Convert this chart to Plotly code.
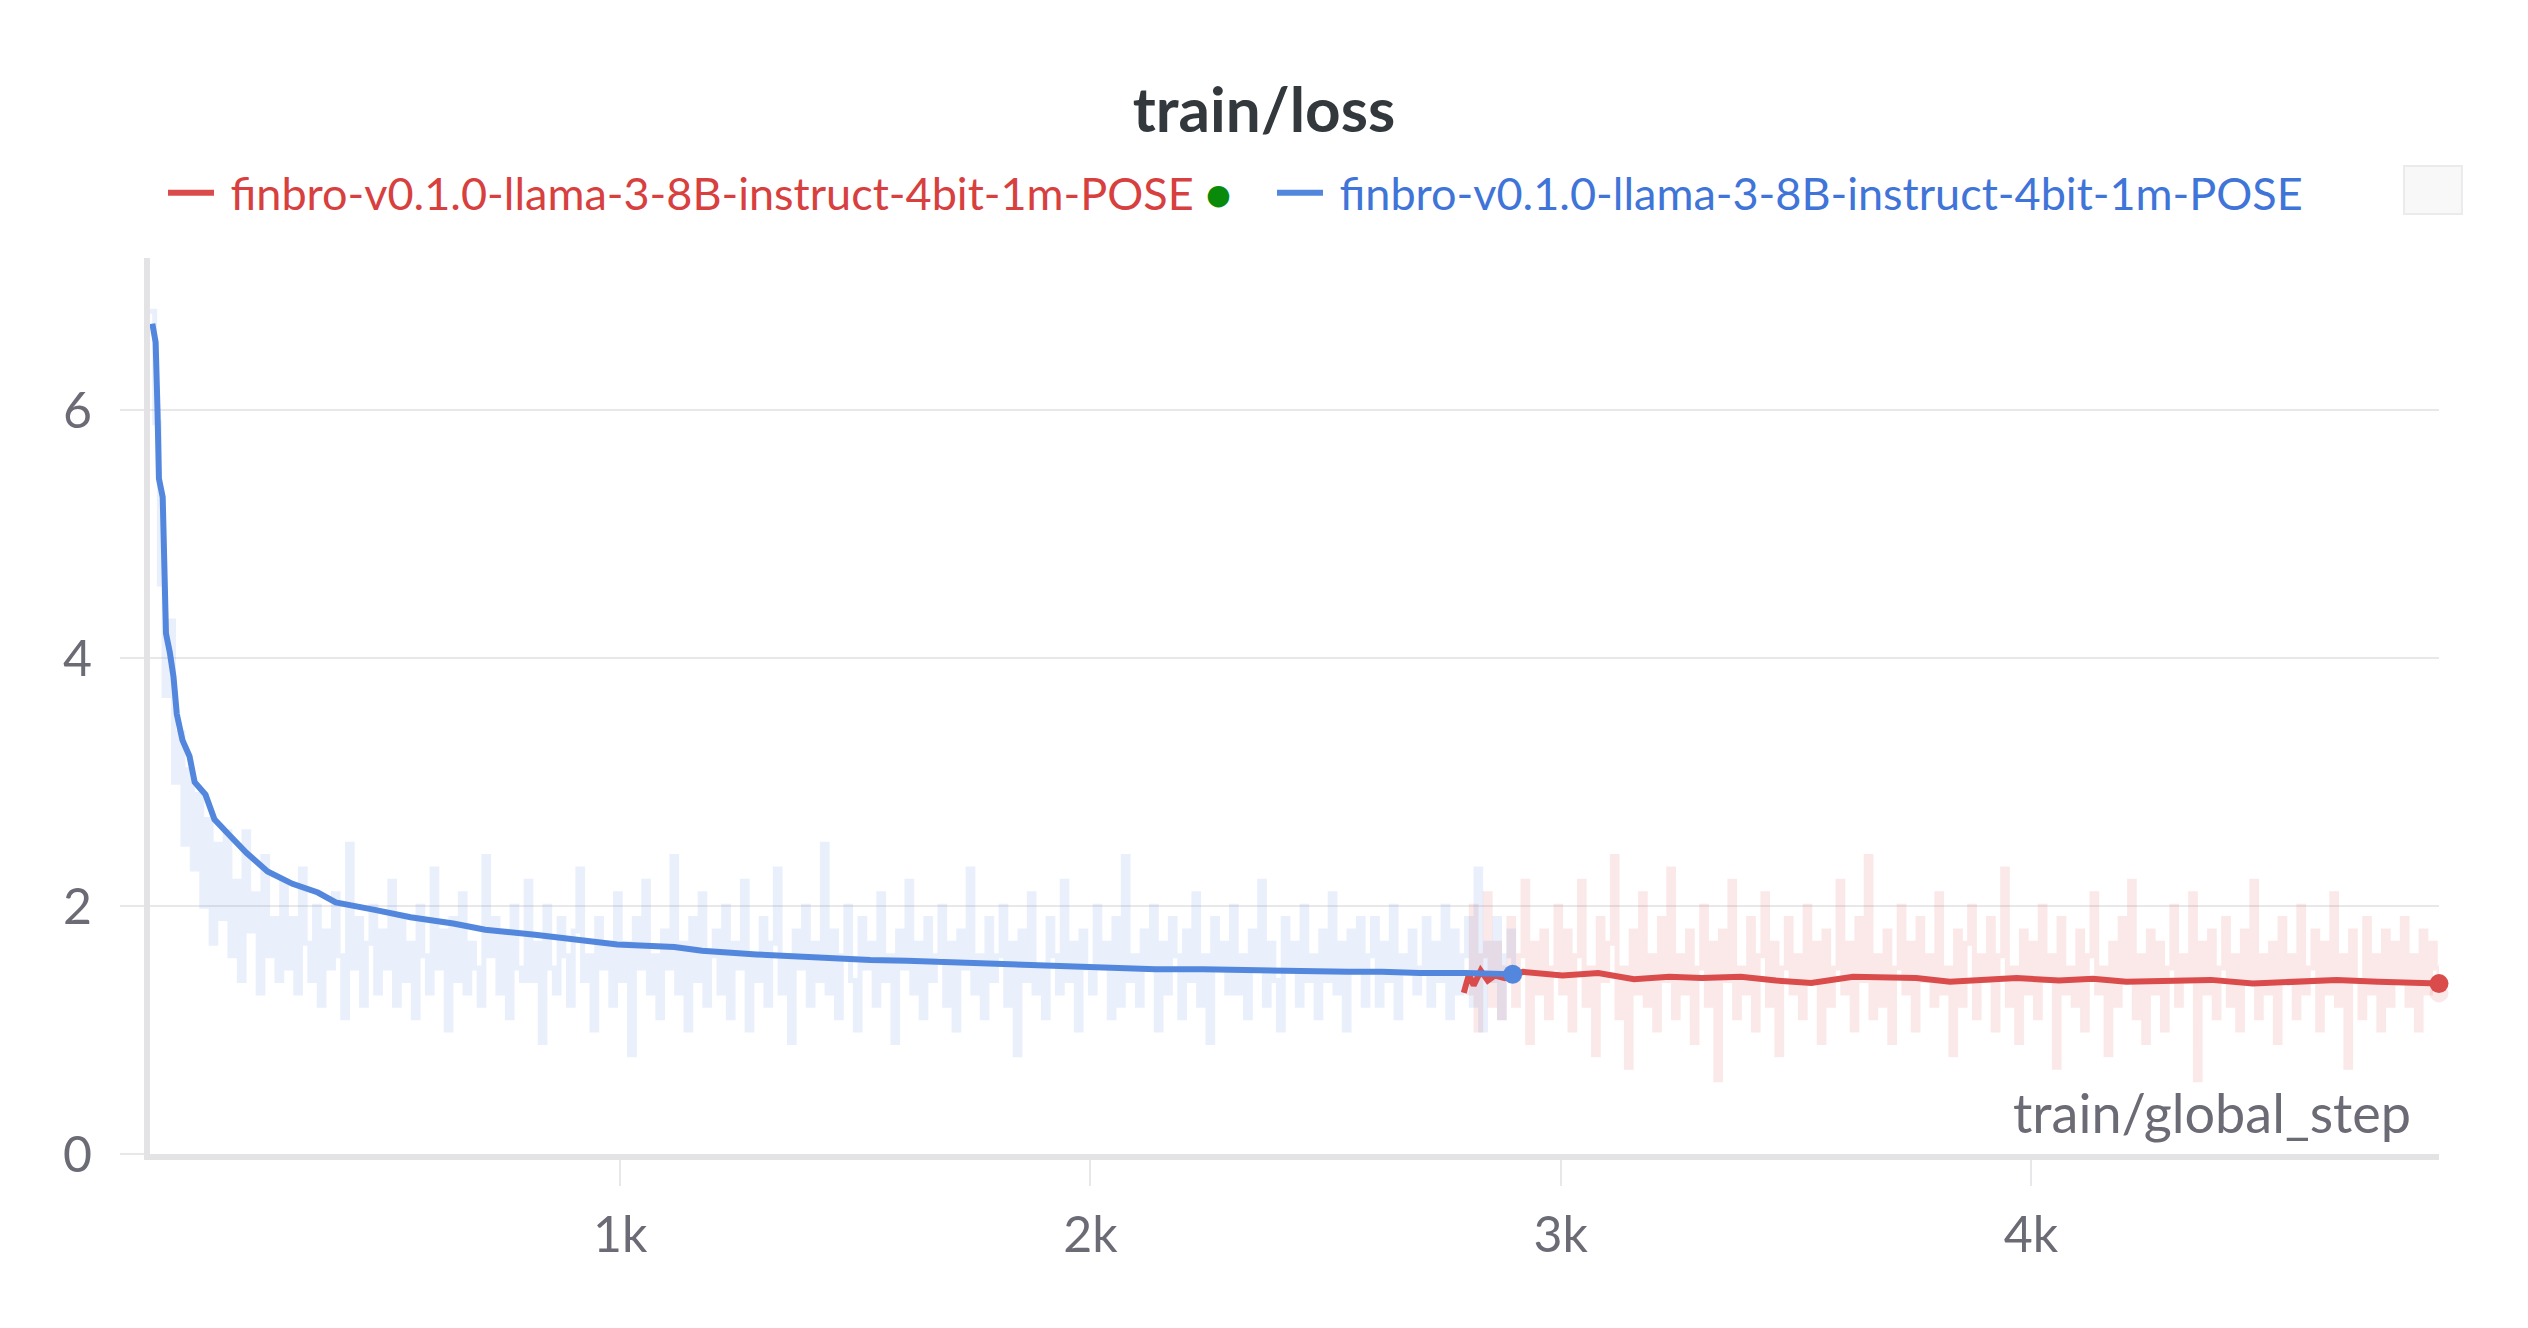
import plotly.graph_objects as go

# ---------------- data ----------------
TITLE = "train/loss"
RUN_NAME = "finbro-v0.1.0-llama-3-8B-instruct-4bit-1m-POSE"
X_TITLE = "train/global_step"

x_tick_vals = [1000, 2000, 3000, 4000]
x_tick_text = ["1k", "2k", "3k", "4k"]
y_tick_vals = [0, 2, 4, 6]
y_tick_text = ["0", "2", "4", "6"]

# raw (unsmoothed) loss of the blue run, logged every 10 steps from step 0
blue_raw_start = 0
blue_raw_interval = 10
blue_raw = [
    6.8, 5.9, 4.6, 3.7, 4.3, 3.0, 3.4, 2.5, 3.1, 2.3,
    2.9, 2.0, 2.7, 1.7, 2.5, 1.9, 2.6, 1.6, 2.2, 1.4,
    2.6, 1.8, 2.1, 1.3, 2.4, 1.6, 1.9, 1.4, 2.2, 1.5,
    1.9, 1.3, 2.3, 1.7, 1.4, 2.0, 1.2, 1.8, 1.5, 2.1,
    1.6, 1.1, 2.5, 1.5, 1.9, 1.2, 1.7, 2.0, 1.3, 1.8,
    1.5, 2.2, 1.2, 1.9, 1.4, 1.7, 1.1, 2.0, 1.6, 1.3,
    2.3, 1.5, 1.8, 1.0, 1.9, 1.4, 2.1, 1.3, 1.7, 1.5,
    1.2, 2.4, 1.6, 1.9, 1.3, 1.8, 1.1, 2.0, 1.5, 1.4,
    2.2, 1.4, 1.7, 0.9, 2.0, 1.5, 1.3, 1.9, 1.6, 1.2,
    1.8, 2.3, 1.4, 1.6, 1.0, 1.9, 1.5, 1.7, 1.2, 2.1,
    1.4, 1.7, 0.8, 1.9, 1.5, 2.2, 1.3, 1.6, 1.1, 1.8,
    1.5, 2.4, 1.3, 1.7, 1.0, 1.9, 1.4, 2.1, 1.2, 1.6,
    1.8, 1.3, 2.0, 1.1, 1.7, 1.5, 2.2, 1.0, 1.6, 1.4,
    1.9, 1.2, 1.7, 2.3, 1.3, 1.6, 0.9, 1.8, 1.5, 2.0,
    1.2, 1.7, 1.4, 2.5, 1.3, 1.8, 1.1, 1.6, 2.0, 1.4,
    1.0, 1.9, 1.5, 1.7, 1.2, 2.1, 1.4, 1.6, 0.9, 1.8,
    1.5, 2.2, 1.3, 1.7, 1.1, 1.9, 1.4, 1.6, 2.0, 1.2,
    1.7, 1.0, 1.8, 1.5, 2.3, 1.3, 1.6, 1.1, 1.9, 1.4,
    1.6, 2.0, 1.2, 1.7, 0.8, 1.8, 1.4, 2.1, 1.3, 1.5,
    1.1, 1.9, 1.6, 1.3, 2.2, 1.4, 1.7, 1.0, 1.8, 1.5,
    1.3, 2.0, 1.5, 1.7, 1.1, 1.9, 1.2, 2.4, 1.4, 1.6,
    1.2, 1.8, 1.5, 2.0, 1.0, 1.7, 1.3, 1.9, 1.6, 1.1,
    1.8, 1.4, 2.1, 1.2, 1.6, 0.9, 1.9, 1.5, 1.7, 1.3,
    2.0, 1.3, 1.6, 1.1, 1.8, 1.5, 2.2, 1.2, 1.7, 1.4,
    1.0, 1.9, 1.5, 1.7, 1.2, 2.0, 1.4, 1.6, 1.1, 1.8,
    1.4, 2.1, 1.3, 1.7, 1.0, 1.8, 1.5, 1.9, 1.2, 1.6,
    1.9, 1.2, 1.7, 1.4, 2.0, 1.1, 1.6, 1.5, 1.8, 1.3,
    1.5, 1.9, 1.2, 1.7, 1.4, 2.0, 1.1, 1.8, 1.3, 1.6,
    1.9, 1.2, 2.3, 1.0, 1.7, 1.4, 1.9, 1.1, 1.6, 1.8, 1.45,
]

# raw loss of the red run, logged every 10 steps from step 2800, last point at 4868
red_raw_start = 2800
red_raw_interval = 10
red_raw_last_step = 4868
red_raw = [
    1.3, 2.0, 1.0, 1.6, 2.1, 1.2, 1.7, 1.1, 1.5, 1.9,
    1.2, 1.6, 2.2, 0.9, 1.7, 1.3, 1.8, 1.1, 1.5, 2.0,
    1.3, 1.8, 1.0, 1.6, 2.2, 1.2, 1.5, 0.8, 1.9, 1.4,
    1.7, 2.4, 1.1, 1.5, 0.7, 1.8, 1.3, 2.1, 1.2, 1.6,
    1.0, 1.9, 1.4, 2.3, 1.1, 1.6, 1.3, 1.8, 0.9, 1.5,
    2.0, 1.2, 1.7, 0.6, 1.8, 1.4, 2.2, 1.1, 1.5, 1.3,
    1.9, 1.0, 1.6, 2.1, 1.2, 1.7, 0.8, 1.5, 1.9, 1.3,
    1.6, 1.1, 2.0, 1.4, 1.7, 0.9, 1.8, 1.2, 1.5, 2.2,
    1.3, 1.7, 1.0, 1.9, 1.4, 2.4, 1.1, 1.6, 1.2, 1.8,
    0.9, 1.5, 2.0, 1.3, 1.7, 1.0, 1.9, 1.4, 1.6, 1.2,
    2.1, 1.3, 1.5, 0.8, 1.8, 1.2, 1.7, 2.0, 1.1, 1.6,
    1.4, 1.9, 1.0, 1.6, 2.3, 1.2, 1.5, 0.9, 1.8, 1.3,
    1.7, 1.1, 2.0, 1.4, 1.6, 0.7, 1.9, 1.3, 1.5, 1.2,
    1.8, 1.0, 1.6, 2.1, 1.3, 1.5, 0.8, 1.7, 1.2, 1.9,
    1.4, 2.2, 1.1, 1.6, 0.9, 1.8, 1.3, 1.7, 1.0, 1.5,
    2.0, 1.2, 1.6, 1.4, 2.1, 0.6, 1.7, 1.3, 1.8, 1.1,
    1.5, 1.9, 1.2, 1.6, 1.0, 1.8, 1.4, 2.2, 1.1, 1.6,
    1.3, 1.7, 0.9, 1.9, 1.4, 1.6, 1.1, 2.0, 1.3, 1.5,
    1.8, 1.0, 1.7, 1.3, 2.1, 1.2, 1.6, 0.7, 1.8, 1.4,
    1.1, 1.9, 1.3, 1.6, 1.0, 1.8, 1.2, 1.7, 1.4, 1.9,
    1.2, 1.6, 1.0, 1.8, 1.3, 1.7, 1.5,
    1.3,
]

# smoothed curves
blue_smooth_steps = [5, 12, 16, 19, 27, 31, 34, 42, 50, 57, 69, 84, 95, 118, 137, 167,
                     205, 250, 303, 357, 395, 478, 554, 645, 713, 819, 896, 994,
                     1115, 1174, 1290, 1380, 1460, 1532, 1610, 1684, 1760, 1835,
                     1910, 1987, 2060, 2138, 2240, 2342, 2450, 2548, 2620, 2700,
                     2800, 2898]
blue_smooth = [6.7, 6.55, 6.0, 5.45, 5.3, 4.85, 4.2, 4.05, 3.85, 3.55, 3.34, 3.21, 3.0,
               2.9, 2.7, 2.58, 2.43, 2.28, 2.18, 2.11, 2.03, 1.97, 1.91, 1.86, 1.81,
               1.77, 1.73, 1.69, 1.67, 1.64, 1.61, 1.59, 1.58, 1.565, 1.56, 1.55,
               1.54, 1.53, 1.525, 1.515, 1.50, 1.49, 1.49, 1.48, 1.475, 1.47, 1.47,
               1.46, 1.46, 1.45]

red_smooth_steps = [2794, 2805, 2815, 2830, 2845, 2860, 2881, 2920, 3004, 3080, 3156,
                    3231, 3300, 3383, 3458, 3533, 3622, 3756, 3828, 3970, 4060, 4132,
                    4203, 4293, 4383, 4472, 4561, 4650, 4739, 4868]
red_smooth = [1.30, 1.45, 1.36, 1.48, 1.40, 1.44, 1.42, 1.47, 1.44, 1.46, 1.41,
              1.43, 1.42, 1.43, 1.40, 1.38, 1.43, 1.42, 1.39, 1.42, 1.40, 1.415,
              1.39, 1.40, 1.405, 1.375, 1.39, 1.405, 1.39, 1.375]

# ---------------- styles ----------------
BLUE = "#5387dd"
RED = "#da4c4c"
BLUE_RAW = "rgba(83,135,221,0.13)"
RED_RAW = "rgba(218,76,76,0.12)"
BLUE_TEXT = "#3f74d8"
RED_TEXT = "#d83f3f"
AXIS_GRAY = "#e3e3e6"
GRID_GRAY = "#e8e8ea"
TICK_TEXT = "#6b6b76"
FONT = "Lato"
NBSP = "\u00a0"

W, H = 2528, 1328
ML, MR, MT, MB = 150, 89, 258, 174
Y_MAX = 7.23

blue_raw_steps = [blue_raw_start + blue_raw_interval * i for i in range(len(blue_raw))]
red_raw_steps = [red_raw_start + red_raw_interval * i for i in range(len(red_raw) - 1)] + [red_raw_last_step]

fig = go.Figure()

fig.add_trace(go.Scatter(x=red_raw_steps, y=red_raw, mode="lines",
                         line=dict(color=RED_RAW, width=5, shape="hv"), showlegend=False,
                         hoverinfo="skip"))
fig.add_trace(go.Scatter(x=blue_raw_steps, y=blue_raw, mode="lines",
                         line=dict(color=BLUE_RAW, width=5, shape="hv"), showlegend=False,
                         hoverinfo="skip"))
fig.add_trace(go.Scatter(x=red_raw_steps[-1:], y=red_raw[-1:], mode="markers",
                         marker=dict(color="rgba(218,76,76,0.12)", size=19), showlegend=False,
                         hoverinfo="skip", cliponaxis=False))

legend_red = (f'{NBSP}<span style="color:{RED_TEXT}">{RUN_NAME}</span> '
              f'<span style="color:#0a8a0a;font-size:44px">●</span>')
legend_blue = f'{NBSP}<span style="color:{BLUE_TEXT}">{RUN_NAME}</span>'

fig.add_trace(go.Scatter(x=red_smooth_steps, y=red_smooth, mode="lines", name=legend_red,
                         line=dict(color=RED, width=6), legendrank=1))
fig.add_trace(go.Scatter(x=blue_smooth_steps, y=blue_smooth, mode="lines", name=legend_blue,
                         line=dict(color=BLUE, width=6), legendrank=2))
fig.add_trace(go.Scatter(x=red_smooth_steps[-1:], y=red_smooth[-1:], mode="markers",
                         marker=dict(color=RED, size=19), showlegend=False, cliponaxis=False))
fig.add_trace(go.Scatter(x=blue_smooth_steps[-1:], y=blue_smooth[-1:], mode="markers",
                         marker=dict(color=BLUE, size=19), showlegend=False, cliponaxis=False))

pw = W - ML - MR
ph = H - MT - MB

def px_x(p):
    return (p - ML) / pw

def px_y(p):
    return (H - MB - p) / ph

fig.update_layout(
    width=W, height=H,
    margin=dict(l=ML, r=MR, t=MT, b=MB),
    paper_bgcolor="white", plot_bgcolor="white",
    font=dict(family=FONT, color=TICK_TEXT, size=44),
    title=dict(text=f"<b>{TITLE}</b>", x=0.5, xref="container", xanchor="center",
               y=1 - 110 / H, yref="container", yanchor="middle",
               font=dict(family=FONT, size=62, color="#33383d")),
    showlegend=True,
    legend=dict(orientation="h", x=px_x(163), xanchor="left", y=px_y(193), yanchor="middle",
                font=dict(family=FONT, size=45), itemwidth=46, traceorder="normal",
                entrywidth=1048, entrywidthmode="pixels",
                bgcolor="rgba(0,0,0,0)"),
    xaxis=dict(range=[0, red_raw_last_step], showgrid=False, zeroline=False,
               showline=True, linecolor=AXIS_GRAY, linewidth=6,
               tickmode="array", tickvals=x_tick_vals, ticktext=x_tick_text,
               ticks="outside", ticklen=26, tickwidth=2, tickcolor=GRID_GRAY,
               ticklabelstandoff=6,
               tickfont=dict(family=FONT, size=50, color=TICK_TEXT)),
    yaxis=dict(range=[0, Y_MAX], showgrid=True, gridcolor=GRID_GRAY, gridwidth=2,
               zeroline=False, showline=True, linecolor=AXIS_GRAY, linewidth=6,
               tickmode="array", tickvals=y_tick_vals, ticktext=y_tick_text,
               ticks="outside", ticklen=24, tickwidth=2, tickcolor=GRID_GRAY,
               ticklabelstandoff=18,
               tickfont=dict(family=FONT, size=50, color=TICK_TEXT)),
    hovermode=False,
)

fig.add_annotation(text=X_TITLE, xref="paper", yref="paper", x=px_x(2413), y=px_y(1112),
                   xanchor="right", yanchor="middle", showarrow=False,
                   font=dict(family=FONT, size=54, color=TICK_TEXT))

fig.add_shape(type="rect", xref="paper", yref="paper",
              x0=px_x(2404), x1=px_x(2462), y0=px_y(214), y1=px_y(166),
              fillcolor="#f8f8f9", line=dict(color="#ebebed", width=2))

fig.write_html("out.html", config={"displayModeBar": False},
               post_script="document.body.style.margin='0';document.body.style.overflow='hidden';")
